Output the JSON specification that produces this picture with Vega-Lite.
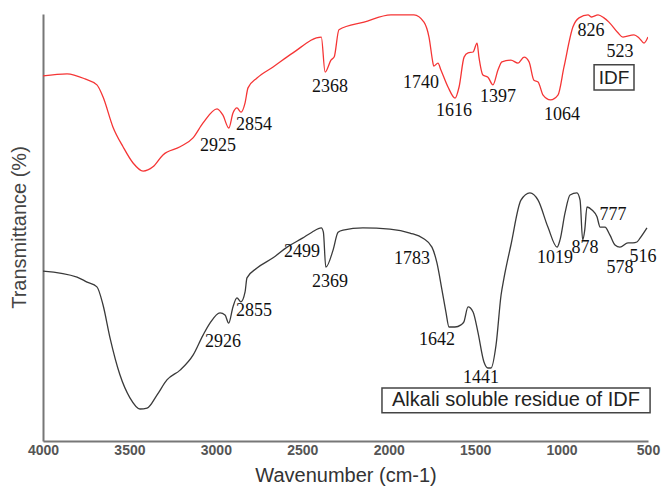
{
  "$schema": "https://vega.github.io/schema/vega-lite/v6.json",
  "width": 605,
  "height": 427,
  "autosize": {"type": "none"},
  "padding": {"left": 43, "top": 14, "right": 14, "bottom": 49},
  "background": "white",
  "config": {"view": {"stroke": null}, "font": "Liberation Sans"},
  "datasets": {
    "spectra": [
      {"series": "IDF", "w": 4000, "t": 85.5},
      {"series": "IDF", "w": 3861, "t": 86.0},
      {"series": "IDF", "w": 3757, "t": 84.8},
      {"series": "IDF", "w": 3688, "t": 83.4},
      {"series": "IDF", "w": 3653, "t": 80.6},
      {"series": "IDF", "w": 3595, "t": 73.5},
      {"series": "IDF", "w": 3537, "t": 68.9},
      {"series": "IDF", "w": 3479, "t": 65.1},
      {"series": "IDF", "w": 3421, "t": 63.2},
      {"series": "IDF", "w": 3364, "t": 64.2},
      {"series": "IDF", "w": 3306, "t": 67.0},
      {"series": "IDF", "w": 3207, "t": 68.9},
      {"series": "IDF", "w": 3132, "t": 71.0},
      {"series": "IDF", "w": 3074, "t": 74.5},
      {"series": "IDF", "w": 2993, "t": 77.8},
      {"series": "IDF", "w": 2959, "t": 76.3},
      {"series": "IDF", "w": 2925, "t": 73.3},
      {"series": "IDF", "w": 2901, "t": 76.8},
      {"series": "IDF", "w": 2878, "t": 78.0},
      {"series": "IDF", "w": 2854, "t": 77.0},
      {"series": "IDF", "w": 2831, "t": 79.2},
      {"series": "IDF", "w": 2814, "t": 82.7},
      {"series": "IDF", "w": 2762, "t": 85.0},
      {"series": "IDF", "w": 2669, "t": 87.6},
      {"series": "IDF", "w": 2554, "t": 90.9},
      {"series": "IDF", "w": 2390, "t": 94.6},
      {"series": "IDF", "w": 2368, "t": 86.4},
      {"series": "IDF", "w": 2334, "t": 89.2},
      {"series": "IDF", "w": 2315, "t": 90.0},
      {"series": "IDF", "w": 2288, "t": 96.3},
      {"series": "IDF", "w": 2143, "t": 98.1},
      {"series": "IDF", "w": 1987, "t": 99.8},
      {"series": "IDF", "w": 1854, "t": 99.8},
      {"series": "IDF", "w": 1796, "t": 98.1},
      {"series": "IDF", "w": 1767, "t": 94.6},
      {"series": "IDF", "w": 1744, "t": 88.5},
      {"series": "IDF", "w": 1740, "t": 87.8},
      {"series": "IDF", "w": 1715, "t": 88.5},
      {"series": "IDF", "w": 1698, "t": 86.9},
      {"series": "IDF", "w": 1657, "t": 82.9},
      {"series": "IDF", "w": 1616, "t": 80.3},
      {"series": "IDF", "w": 1593, "t": 82.9},
      {"series": "IDF", "w": 1564, "t": 89.9},
      {"series": "IDF", "w": 1541, "t": 90.9},
      {"series": "IDF", "w": 1512, "t": 91.1},
      {"series": "IDF", "w": 1489, "t": 93.2},
      {"series": "IDF", "w": 1478, "t": 89.9},
      {"series": "IDF", "w": 1455, "t": 85.7},
      {"series": "IDF", "w": 1426, "t": 85.2},
      {"series": "IDF", "w": 1397, "t": 83.4},
      {"series": "IDF", "w": 1368, "t": 86.9},
      {"series": "IDF", "w": 1345, "t": 88.8},
      {"series": "IDF", "w": 1293, "t": 89.2},
      {"series": "IDF", "w": 1252, "t": 88.5},
      {"series": "IDF", "w": 1217, "t": 89.9},
      {"series": "IDF", "w": 1188, "t": 88.8},
      {"series": "IDF", "w": 1160, "t": 84.5},
      {"series": "IDF", "w": 1136, "t": 84.1},
      {"series": "IDF", "w": 1107, "t": 81.0},
      {"series": "IDF", "w": 1064, "t": 79.9},
      {"series": "IDF", "w": 1021, "t": 81.0},
      {"series": "IDF", "w": 986, "t": 87.6},
      {"series": "IDF", "w": 934, "t": 97.0},
      {"series": "IDF", "w": 899, "t": 99.1},
      {"series": "IDF", "w": 847, "t": 99.8},
      {"series": "IDF", "w": 826, "t": 99.3},
      {"series": "IDF", "w": 789, "t": 99.8},
      {"series": "IDF", "w": 755, "t": 99.1},
      {"series": "IDF", "w": 726, "t": 98.1},
      {"series": "IDF", "w": 674, "t": 95.6},
      {"series": "IDF", "w": 645, "t": 94.6},
      {"series": "IDF", "w": 581, "t": 95.1},
      {"series": "IDF", "w": 552, "t": 94.4},
      {"series": "IDF", "w": 523, "t": 93.2},
      {"series": "IDF", "w": 500, "t": 94.6},
      {"series": "Alkali", "w": 4000, "t": 39.8},
      {"series": "Alkali", "w": 3803, "t": 38.4},
      {"series": "Alkali", "w": 3745, "t": 37.2},
      {"series": "Alkali", "w": 3688, "t": 36.1},
      {"series": "Alkali", "w": 3653, "t": 31.9},
      {"series": "Alkali", "w": 3612, "t": 24.1},
      {"series": "Alkali", "w": 3555, "t": 15.5},
      {"series": "Alkali", "w": 3497, "t": 10.1},
      {"series": "Alkali", "w": 3439, "t": 7.5},
      {"series": "Alkali", "w": 3398, "t": 7.7},
      {"series": "Alkali", "w": 3340, "t": 10.8},
      {"series": "Alkali", "w": 3283, "t": 14.3},
      {"series": "Alkali", "w": 3207, "t": 16.6},
      {"series": "Alkali", "w": 3132, "t": 20.1},
      {"series": "Alkali", "w": 3074, "t": 24.8},
      {"series": "Alkali", "w": 3034, "t": 27.6},
      {"series": "Alkali", "w": 2976, "t": 30.0},
      {"series": "Alkali", "w": 2947, "t": 29.5},
      {"series": "Alkali", "w": 2926, "t": 27.6},
      {"series": "Alkali", "w": 2901, "t": 31.4},
      {"series": "Alkali", "w": 2878, "t": 33.5},
      {"series": "Alkali", "w": 2855, "t": 32.6},
      {"series": "Alkali", "w": 2831, "t": 34.9},
      {"series": "Alkali", "w": 2820, "t": 38.2},
      {"series": "Alkali", "w": 2762, "t": 40.5},
      {"series": "Alkali", "w": 2669, "t": 42.9},
      {"series": "Alkali", "w": 2588, "t": 45.4},
      {"series": "Alkali", "w": 2499, "t": 47.5},
      {"series": "Alkali", "w": 2444, "t": 48.9},
      {"series": "Alkali", "w": 2390, "t": 49.9},
      {"series": "Alkali", "w": 2378, "t": 48.9},
      {"series": "Alkali", "w": 2364, "t": 40.7},
      {"series": "Alkali", "w": 2322, "t": 44.7},
      {"series": "Alkali", "w": 2293, "t": 48.9},
      {"series": "Alkali", "w": 2264, "t": 49.4},
      {"series": "Alkali", "w": 2149, "t": 49.9},
      {"series": "Alkali", "w": 1993, "t": 49.6},
      {"series": "Alkali", "w": 1877, "t": 48.7},
      {"series": "Alkali", "w": 1802, "t": 47.5},
      {"series": "Alkali", "w": 1750, "t": 45.4},
      {"series": "Alkali", "w": 1721, "t": 41.7},
      {"series": "Alkali", "w": 1692, "t": 35.4},
      {"series": "Alkali", "w": 1669, "t": 30.2},
      {"series": "Alkali", "w": 1651, "t": 26.7},
      {"series": "Alkali", "w": 1617, "t": 26.7},
      {"series": "Alkali", "w": 1582, "t": 27.2},
      {"series": "Alkali", "w": 1565, "t": 27.9},
      {"series": "Alkali", "w": 1541, "t": 31.4},
      {"series": "Alkali", "w": 1512, "t": 30.2},
      {"series": "Alkali", "w": 1484, "t": 25.5},
      {"series": "Alkali", "w": 1449, "t": 18.5},
      {"series": "Alkali", "w": 1426, "t": 17.1},
      {"series": "Alkali", "w": 1408, "t": 17.1},
      {"series": "Alkali", "w": 1379, "t": 22.5},
      {"series": "Alkali", "w": 1350, "t": 34.2},
      {"series": "Alkali", "w": 1333, "t": 38.2},
      {"series": "Alkali", "w": 1293, "t": 45.9},
      {"series": "Alkali", "w": 1235, "t": 56.4},
      {"series": "Alkali", "w": 1183, "t": 58.1},
      {"series": "Alkali", "w": 1136, "t": 56.4},
      {"series": "Alkali", "w": 1079, "t": 50.1},
      {"series": "Alkali", "w": 1026, "t": 45.4},
      {"series": "Alkali", "w": 1009, "t": 47.1},
      {"series": "Alkali", "w": 980, "t": 53.4},
      {"series": "Alkali", "w": 951, "t": 57.6},
      {"series": "Alkali", "w": 911, "t": 58.1},
      {"series": "Alkali", "w": 893, "t": 56.4},
      {"series": "Alkali", "w": 878, "t": 47.1},
      {"series": "Alkali", "w": 866, "t": 49.4},
      {"series": "Alkali", "w": 853, "t": 54.8},
      {"series": "Alkali", "w": 824, "t": 54.1},
      {"series": "Alkali", "w": 795, "t": 52.5},
      {"series": "Alkali", "w": 777, "t": 50.1},
      {"series": "Alkali", "w": 749, "t": 50.1},
      {"series": "Alkali", "w": 720, "t": 48.2},
      {"series": "Alkali", "w": 691, "t": 45.9},
      {"series": "Alkali", "w": 662, "t": 45.4},
      {"series": "Alkali", "w": 616, "t": 46.4},
      {"series": "Alkali", "w": 587, "t": 46.4},
      {"series": "Alkali", "w": 564, "t": 46.6},
      {"series": "Alkali", "w": 546, "t": 47.5},
      {"series": "Alkali", "w": 506, "t": 49.9}
    ],
    "labels": [
      {"label": "2925", "w": 2988, "t": 69.1},
      {"label": "2854", "w": 2779, "t": 74.0},
      {"label": "2368", "w": 2339, "t": 82.9},
      {"label": "1740", "w": 1813, "t": 83.8},
      {"label": "1616", "w": 1622, "t": 77.3},
      {"label": "1397", "w": 1368, "t": 80.6},
      {"label": "1064", "w": 998, "t": 76.3},
      {"label": "826", "w": 830, "t": 96.0},
      {"label": "523", "w": 662, "t": 91.1},
      {"label": "2926", "w": 2959, "t": 23.2},
      {"label": "2855", "w": 2779, "t": 30.4},
      {"label": "2499", "w": 2502, "t": 44.3},
      {"label": "2369", "w": 2340, "t": 37.2},
      {"label": "1783", "w": 1865, "t": 42.6},
      {"label": "1642", "w": 1721, "t": 23.7},
      {"label": "1441", "w": 1466, "t": 14.8},
      {"label": "1019", "w": 1038, "t": 42.9},
      {"label": "878", "w": 864, "t": 45.2},
      {"label": "777", "w": 703, "t": 52.9},
      {"label": "578", "w": 662, "t": 40.5},
      {"label": "516", "w": 529, "t": 43.1}
    ],
    "boxes": [
      {"label": "IDF", "w1": 812, "w2": 581, "t1": 88.1, "t2": 82.2, "wt": 697, "tt": 85.1},
      {"label": "Alkali soluble residue of IDF", "w1": 2039, "w2": 488, "t1": 12.4, "t2": 6.6, "wt": 1264, "tt": 9.5}
    ]
  },
  "layer": [
    {
      "data": {"name": "spectra"},
      "mark": {"type": "line", "strokeWidth": 1.3, "clip": true, "interpolate": "monotone"},
      "encoding": {
        "x": {
          "field": "w", "type": "quantitative",
          "scale": {"domain": [500, 4000], "reverse": true, "nice": false, "zero": false},
          "axis": {
            "values": [4000, 3500, 3000, 2500, 2000, 1500, 1000, 500],
            "format": "d", "ticks": false, "grid": false,
            "domainColor": "#777", "domainWidth": 2,
            "labelFont": "Liberation Sans", "labelFontWeight": "bold", "labelFontSize": 14,
            "labelColor": "#555", "labelPadding": 2, "labelFlush": false, "labelOverlap": false,
            "title": "Wavenumber (cm-1)", "titleFont": "Liberation Sans", "titleFontSize": 20,
            "titleFontWeight": "normal", "titleColor": "#333", "titlePadding": 8
          }
        },
        "y": {
          "field": "t", "type": "quantitative",
          "scale": {"domain": [0, 100], "nice": false},
          "axis": {
            "labels": false, "ticks": false, "grid": false,
            "domainColor": "#777", "domainWidth": 2,
            "title": "Transmittance (%)", "titleFont": "Liberation Sans", "titleFontSize": 20,
            "titleFontWeight": "normal", "titleColor": "#444",
            "titleX": -24, "titleY": 213, "titleAngle": -90, "titleAlign": "center", "titleBaseline": "middle"
          }
        },
        "color": {
          "field": "series", "type": "nominal",
          "scale": {"domain": ["IDF", "Alkali"], "range": ["#f53535", "#3a3a3a"]},
          "legend": null
        }
      }
    },
    {
      "data": {"name": "labels"},
      "mark": {"type": "text", "font": "Liberation Serif", "fontSize": 18, "color": "#111"},
      "encoding": {
        "x": {"field": "w", "type": "quantitative"},
        "y": {"field": "t", "type": "quantitative"},
        "text": {"field": "label", "type": "nominal"}
      }
    },
    {
      "data": {"name": "boxes"},
      "mark": {"type": "rect", "fill": "white", "stroke": "#444", "strokeWidth": 1.5, "clip": false},
      "encoding": {
        "x": {"field": "w1", "type": "quantitative"},
        "x2": {"field": "w2"},
        "y": {"field": "t1", "type": "quantitative"},
        "y2": {"field": "t2"}
      }
    },
    {
      "data": {"name": "boxes"},
      "transform": [{"filter": "datum.label == 'IDF'"}],
      "mark": {"type": "text", "font": "Liberation Sans", "fontSize": 19, "color": "#222"},
      "encoding": {
        "x": {"field": "wt", "type": "quantitative"},
        "y": {"field": "tt", "type": "quantitative"},
        "text": {"field": "label", "type": "nominal"}
      }
    },
    {
      "data": {"name": "boxes"},
      "transform": [{"filter": "datum.label != 'IDF'"}],
      "mark": {"type": "text", "font": "Liberation Sans", "fontSize": 20, "color": "#222"},
      "encoding": {
        "x": {"field": "wt", "type": "quantitative"},
        "y": {"field": "tt", "type": "quantitative"},
        "text": {"field": "label", "type": "nominal"}
      }
    }
  ]
}
